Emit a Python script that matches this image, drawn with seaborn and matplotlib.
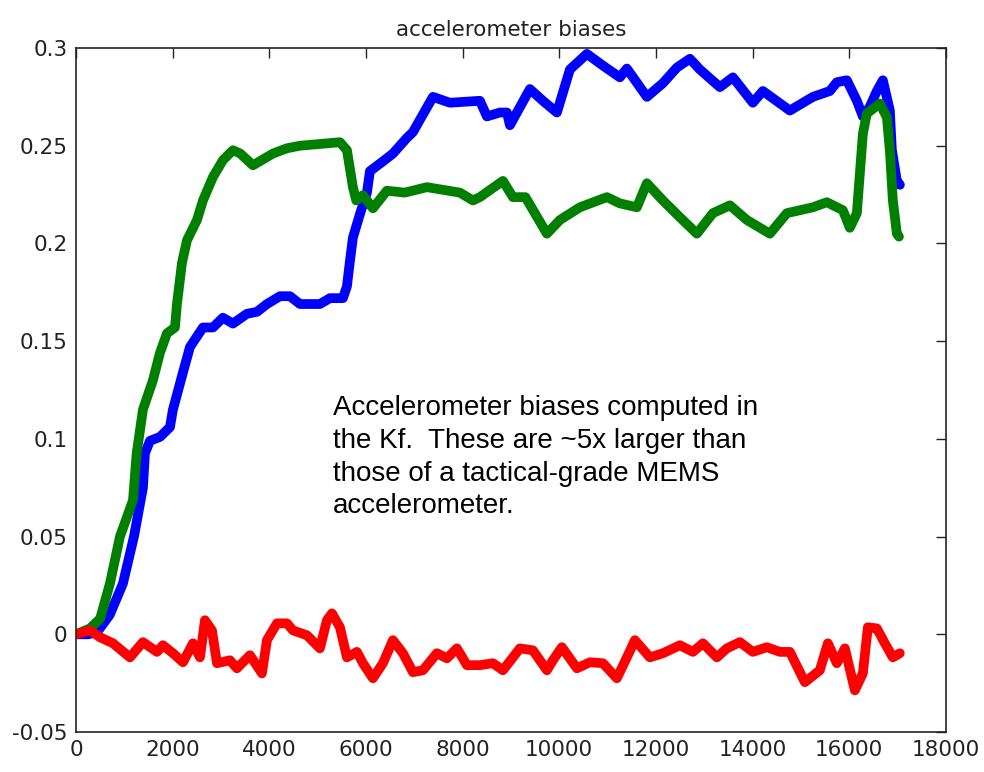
import matplotlib
matplotlib.use("Agg")
import matplotlib.pyplot as plt
import seaborn as sns
import pandas as pd

# accelerometer bias estimates
blue_x = [0, 250, 434, 700, 972, 1200, 1386, 1428, 1531, 1738, 1945, 2007, 2214, 2359, 2628, 2835,
          3041, 3248, 3538, 3745, 3952, 4221, 4428, 4635, 5048, 5255, 5524, 5607, 5669, 5731, 5876,
          6021, 6083, 6352, 6559, 6848, 6973, 7387, 7738, 8359, 8504, 8773, 8918, 8980, 9393, 9662,
          9952, 10221, 10573, 10904, 11255, 11400, 11814, 12145, 12435, 12704, 12911, 13325, 13594,
          14007, 14214, 14773, 15249, 15600, 15745, 15952, 16159, 16283, 16428, 16573, 16697, 16842,
          16883, 16987, 17050]
blue_y = [0, 0, 0.001, 0.01, 0.026, 0.05, 0.075, 0.0926, 0.099, 0.101, 0.106, 0.115, 0.134, 0.147,
          0.157, 0.157, 0.162, 0.159, 0.164, 0.165, 0.169, 0.173, 0.173, 0.169, 0.169, 0.172, 0.172,
          0.178, 0.191, 0.203, 0.215, 0.226, 0.237, 0.242, 0.246, 0.254, 0.257, 0.275, 0.272, 0.273,
          0.265, 0.267, 0.267, 0.2605, 0.279, 0.273, 0.267, 0.289, 0.297, 0.291, 0.285, 0.2895, 0.275,
          0.282, 0.290, 0.2945, 0.289, 0.280, 0.285, 0.272, 0.278, 0.268, 0.275, 0.278, 0.2825, 0.2835,
          0.273, 0.265, 0.270, 0.278, 0.2835, 0.268, 0.248, 0.232, 0.230]

green_x = [0, 290, 500, 703, 910, 1180, 1256, 1386, 1593, 1738, 1883, 2048, 2090, 2193, 2297, 2504,
           2628, 2835, 3041, 3248, 3400, 3662, 4076, 4366, 4635, 5462, 5607, 5731, 5800, 5938, 6145,
           6435, 6800, 7262, 7945, 8214, 8359, 8835, 9042, 9300, 9745, 10014, 10428, 10987, 11255,
           11607, 11814, 12145, 12497, 12849, 13180, 13532, 13883, 14359, 14711, 15249, 15538, 15869,
           16014, 16159, 16283, 16366, 16635, 16780, 16842, 16904, 16987, 17030]
green_y = [0, 0.003, 0.008, 0.026, 0.05, 0.0686, 0.0926, 0.115, 0.130, 0.144, 0.154, 0.157, 0.169,
           0.190, 0.2016, 0.212, 0.222, 0.234, 0.2426, 0.2477, 0.246, 0.240, 0.246, 0.2487, 0.250,
           0.2518, 0.2477, 0.2288, 0.222, 0.2247, 0.218, 0.227, 0.226, 0.2288, 0.226, 0.222, 0.2237,
           0.232, 0.2237, 0.2237, 0.205, 0.212, 0.2185, 0.2237, 0.2205, 0.2185, 0.2308, 0.222, 0.2134,
           0.205, 0.2155, 0.2195, 0.212, 0.205, 0.2155, 0.2185, 0.2211, 0.217, 0.208, 0.2155, 0.256,
           0.2665, 0.2716, 0.2645, 0.2476, 0.222, 0.205, 0.2035]

red_x = [0, 290, 497, 766, 1117, 1386, 1676, 1800, 2007, 2214, 2421, 2566, 2669, 2814, 2918, 3186,
         3331, 3600, 3848, 3952, 4159, 4366, 4490, 4780, 5048, 5193, 5297, 5462, 5607, 5814, 5938,
         6145, 6352, 6559, 6766, 6973, 7180, 7469, 7676, 7883, 8090, 8359, 8628, 8835, 9187, 9455,
         9745, 9869, 10055, 10366, 10635, 10904, 11193, 11400, 11566, 11876, 12145, 12497, 12766,
         12973, 13263, 13469, 13738, 14007, 14297, 14566, 14773, 15083, 15393, 15559, 15745, 15911,
         16118, 16283, 16387, 16573, 16738, 16904, 17048]
red_y = [0, 0.002, -0.0015, -0.0046, -0.0118, -0.004, -0.009, -0.0056, -0.0097, -0.0143, -0.0046,
         -0.0118, 0.0072, 0.002, -0.0148, -0.0133, -0.0174, -0.0107, -0.020, -0.003, 0.0056, 0.0056,
         0.002, -0.0005, -0.0072, 0.0072, 0.0107, 0.0036, -0.0118, -0.009, -0.0148, -0.0225, -0.0148,
         -0.003, -0.0097, -0.0194, -0.0184, -0.0097, -0.0123, -0.0072, -0.0158, -0.0158, -0.0148,
         -0.0184, -0.0072, -0.0082, -0.0184, -0.0133, -0.0066, -0.0174, -0.0143, -0.0148, -0.0225,
         -0.0118, -0.003, -0.0118, -0.0097, -0.0056, -0.009, -0.0046, -0.0118, -0.0072, -0.004,
         -0.009, -0.0066, -0.009, -0.009, -0.0245, -0.0184, -0.0046, -0.0148, -0.0072, -0.0287,
         -0.020, 0.0036, 0.003, -0.0046, -0.0118, -0.0097]

x_ticks = list(range(0, 18001, 2000))
y_ticks = [-0.05, 0, 0.05, 0.1, 0.15, 0.2, 0.25, 0.3]
y_tick_labels = ["-0.05", "0", "0.05", "0.1", "0.15", "0.2", "0.25", "0.3"]

note = ("Accelerometer biases computed in\n"
        "the Kf.  These are ~5x larger than\n"
        "those of a tactical-grade MEMS\n"
        "accelerometer.")

sns.set_style("white")
plt.rcParams['font.family'] = ['DejaVu Sans']

df = pd.concat([
    pd.DataFrame({'t': blue_x, 'bias': blue_y, 'axis': 'x'}),
    pd.DataFrame({'t': green_x, 'bias': green_y, 'axis': 'y'}),
    pd.DataFrame({'t': red_x, 'bias': red_y, 'axis': 'z'}),
], ignore_index=True)

fig = plt.figure(figsize=(9.84, 7.72), dpi=100)
ax = fig.add_axes([0.0772, 0.0518, 0.884, 0.886])

sns.lineplot(data=df, x='t', y='bias', hue='axis', estimator=None, sort=False,
             palette={'x': '#0000ff', 'y': '#007f00', 'z': '#ff0000'},
             linewidth=7, legend=False, ax=ax)
for ln in ax.get_lines():
    ln.set_solid_joinstyle('round')
    ln.set_solid_capstyle('round')

ax.set_xlim(0, 18000)
ax.set_ylim(-0.05, 0.3)
ax.set_xticks(x_ticks)
ax.set_xticklabels([str(v) for v in x_ticks])
ax.set_yticks(y_ticks)
ax.set_yticklabels(y_tick_labels)
ax.set_xlabel('')
ax.set_ylabel('')
ax.tick_params(direction='in', length=7, width=1, top=True, right=True,
               labelsize=15.5, colors='#222222', pad=6)
for s in ax.spines.values():
    s.set_color('#222222')
    s.set_linewidth(1.2)

ax.set_title('accelerometer biases', fontsize=15.5, color='#222222', pad=9)

ax.text(0.2954, 0.492, note, transform=ax.transAxes, ha='left', va='top',
        fontsize=20, family=['Liberation Sans', 'DejaVu Sans'], linespacing=1.33,
        color='black')

fig.savefig('out.png', dpi=100)
